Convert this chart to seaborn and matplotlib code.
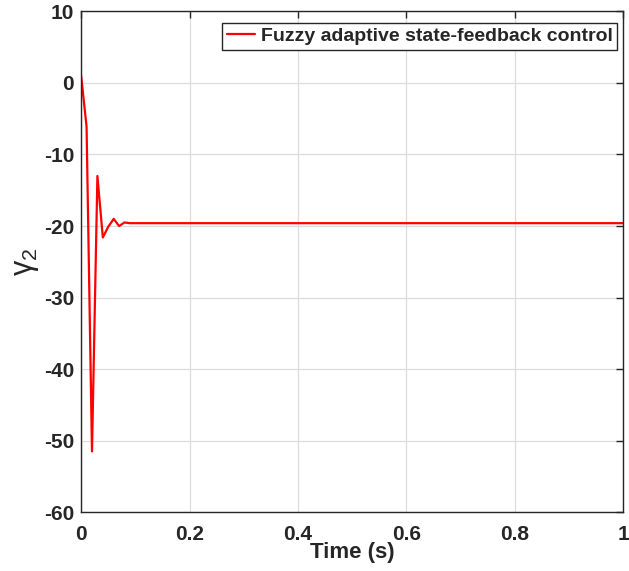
import matplotlib
matplotlib.use("Agg")
import matplotlib.pyplot as plt
import seaborn as sns
import pandas as pd

# Time samples (s) and gamma_2 response of the fuzzy adaptive controller
time_s = [0.00, 0.01, 0.02, 0.03, 0.04, 0.05, 0.06, 0.07, 0.08, 0.09, 1.00]
gamma2 = [1.0, -6.1, -51.5, -13.0, -21.6, -20.1, -19.0, -20.0, -19.5, -19.6, -19.6]

x_ticks = [0, 0.2, 0.4, 0.6, 0.8, 1]
x_tick_labels = ["0", "0.2", "0.4", "0.6", "0.8", "1"]
y_ticks = [10, 0, -10, -20, -30, -40, -50, -60]
y_tick_labels = ["10", "0", "-10", "-20", "-30", "-40", "-50", "-60"]

series_name = "Fuzzy adaptive state-feedback control"

sns.set_theme(style="white")
plt.rcParams["font.family"] = ["Liberation Sans", "DejaVu Sans"]
plt.rcParams["mathtext.fontset"] = "custom"
plt.rcParams["mathtext.rm"] = "Liberation Sans"
plt.rcParams["mathtext.it"] = "Liberation Sans"

df = pd.DataFrame({"t": time_s, "g": gamma2, "series": series_name})

fig = plt.figure(figsize=(6.29, 5.71), dpi=100)
ax = fig.add_axes([0.129, 0.103, 0.862, 0.877])

sns.lineplot(data=df, x="t", y="g", hue="series", palette=["#ff0000"],
             linewidth=1.6, ax=ax, estimator=None, sort=False)

ax.set_xlim(0, 1)
ax.set_ylim(-60, 10)
ax.set_xticks(x_ticks)
ax.set_xticklabels(x_tick_labels)
ax.set_yticks(y_ticks)
ax.set_yticklabels(y_tick_labels)

axis_color = "#262626"
ax.grid(True, color="#dcdcdc", linewidth=0.9)
ax.set_axisbelow(True)
for side in ["left", "bottom", "right", "top"]:
    ax.spines[side].set_visible(True)
    ax.spines[side].set_color(axis_color)
    ax.spines[side].set_linewidth(1.0)

ax.tick_params(axis="both", direction="in", length=5, width=1.0,
               colors=axis_color, labelsize=15, top=True, right=True)
ax.tick_params(axis="y", pad=5)
ax.tick_params(axis="x", pad=9)
for lbl in ax.get_xticklabels() + ax.get_yticklabels():
    lbl.set_fontweight("bold")

ax.set_xlabel("Time (s)", fontsize=16, fontweight="bold", color=axis_color, labelpad=-1)
ax.set_ylabel(r"$\gamma_2$", fontsize=22, color=axis_color, labelpad=2)

leg = ax.legend(loc="upper right", bbox_to_anchor=(0.989, 0.9775), borderaxespad=0.0,
                frameon=True, fancybox=False, edgecolor=axis_color, framealpha=1.0,
                handlelength=1.45, handletextpad=0.3, borderpad=0.25,
                prop={"weight": "bold", "size": 14})
leg.get_frame().set_linewidth(1.0)

fig.savefig("out.png", dpi=100, facecolor="white")
